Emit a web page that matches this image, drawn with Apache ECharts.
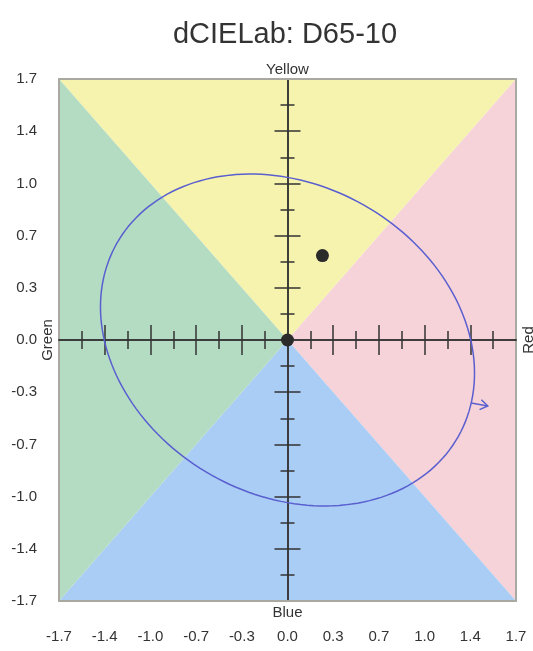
<!DOCTYPE html>
<html>
<head>
<meta charset="utf-8">
<script src="https://cdn.jsdelivr.net/npm/echarts@6/dist/echarts.min.js"></script>
<style>
  html, body { margin: 0; padding: 0; background: #fff; }
  #chart { width: 533px; height: 651px; }
</style>
</head>
<body>
<div id="chart"></div>
<script>
// a*/b* axis range and tick labelling
const axisMin = -1.7;
const axisMax = 1.7;
const axisStep = 0.34;
const tickLabels = ['-1.7', '-1.4', '-1.0', '-0.7', '-0.3', '0.0', '0.3', '0.7', '1.0', '1.4', '1.7'];
const crossTickValues = [-1.36, -1.02, -0.68, -0.34, 0.34, 0.68, 1.02, 1.36];

// hue sectors: triangles from the plot corners to the neutral point
const sectorYellow = [[-1.7, 1.7], [1.7, 1.7], [0, 0]];
const sectorRed = [[1.7, 1.7], [1.7, -1.7], [0, 0]];
const sectorBlue = [[1.7, -1.7], [-1.7, -1.7], [0, 0]];
const sectorGreen = [[-1.7, -1.7], [-1.7, 1.7], [0, 0]];
const sectors = [sectorYellow, sectorRed, sectorBlue, sectorGreen];

// measured points (da*, db*)
const samplePoints = [[0, 0], [0.26, 0.55]];

// tolerance ellipse: centre a*, centre b*, semi-major, semi-minor, rotation in degrees
const ellipseParams = [0, 0, 1.428, 1.032, -19];
// direction arrow leaving the ellipse
const arrowFrom = [1.367, -0.41];
const arrowTo = [1.49, -0.43];

const sectorColors = ['#f6f3ae', '#f6d3d9', '#a9cdf4', '#b4dcc3'];
const FONT = 'Liberation Sans, Arial, sans-serif';

const chart = echarts.init(document.getElementById('chart'), null, { renderer: 'canvas' });

function tickText(v) {
  const i = Math.round((v - axisMin) / axisStep);
  return tickLabels[i] !== undefined ? tickLabels[i] : '';
}

const valueBase = {
  type: 'value',
  min: axisMin,
  max: axisMax,
  interval: axisStep,
  splitLine: { show: false },
  nameMoveOverlap: false,
  z: 3
};
const frameLine = { onZero: false, lineStyle: { color: '#a9a9a2', width: 2 } };
const nameStyle = { fontSize: 15, color: '#333', fontFamily: FONT };
const crossLine = { color: '#333', width: 1.5 };

function crossAxis(inside, majorLen, minorLen, extra) {
  return Object.assign({}, valueBase, {
    axisLine: { onZero: true, onZeroAxisIndex: 0, lineStyle: crossLine },
    axisTick: { show: true, inside: inside, length: majorLen, customValues: crossTickValues, lineStyle: crossLine },
    minorTick: { show: true, splitNumber: 2, length: minorLen, lineStyle: crossLine },
    axisLabel: { show: false }
  }, extra);
}

const option = {
  animation: false,
  backgroundColor: '#fff',
  grid: { left: 59, right: 17, top: 79, bottom: 50, outerBoundsMode: 'none', containLabel: false },
  graphic: [{
    type: 'text',
    x: 285,
    y: 35,
    style: {
      text: 'dCIELab: D65-10',
      align: 'center',
      verticalAlign: 'middle',
      fontSize: 29,
      fill: '#333',
      fontFamily: FONT
    }
  }],
  xAxis: [
    Object.assign({}, valueBase, {
      position: 'bottom',
      axisLine: frameLine,
      axisTick: { show: false },
      axisLabel: { formatter: tickText, margin: 28, fontSize: 15, color: '#333', fontFamily: FONT },
      name: 'Blue', nameLocation: 'middle', nameGap: 4, nameTextStyle: nameStyle
    }),
    Object.assign({}, valueBase, {
      position: 'top',
      axisLine: frameLine,
      axisTick: { show: false },
      axisLabel: { show: false },
      name: 'Yellow', nameLocation: 'middle', nameGap: 2, nameTextStyle: nameStyle
    }),
    crossAxis(true, 15, 9, { position: 'bottom' }),
    crossAxis(false, 15, 9, { position: 'bottom' })
  ],
  yAxis: [
    Object.assign({}, valueBase, {
      position: 'left',
      axisLine: frameLine,
      axisTick: { show: false },
      axisLabel: { formatter: tickText, margin: 22, fontSize: 15, color: '#333', fontFamily: FONT },
      name: 'Green', nameLocation: 'middle', nameGap: 4, nameRotate: 90, nameTextStyle: nameStyle
    }),
    Object.assign({}, valueBase, {
      position: 'right',
      axisLine: frameLine,
      axisTick: { show: false },
      axisLabel: { show: false },
      name: 'Red', nameLocation: 'middle', nameGap: 5, nameRotate: 90, nameTextStyle: nameStyle
    }),
    crossAxis(true, 13, 7, { position: 'left' }),
    crossAxis(false, 13, 7, { position: 'left' })
  ],
  series: [
    {
      type: 'custom',
      name: 'sectors',
      z: 1,
      silent: true,
      data: sectors.map((s, i) => [i]),
      renderItem: function (params, api) {
        const pts = sectors[params.dataIndex].map(p => api.coord(p));
        return {
          type: 'polygon',
          shape: { points: pts },
          style: { fill: sectorColors[params.dataIndex] }
        };
      }
    },
    {
      type: 'custom',
      name: 'ellipse',
      z: 4,
      silent: true,
      data: [ellipseParams],
      renderItem: function (params, api) {
        const cx = api.value(0), cy = api.value(1);
        const ra = api.value(2), rb = api.value(3);
        const phi = api.value(4) * Math.PI / 180;
        const pts = [];
        const n = 180;
        for (let k = 0; k <= n; k++) {
          const t = 2 * Math.PI * k / n;
          const x = cx + ra * Math.cos(t) * Math.cos(phi) - rb * Math.sin(t) * Math.sin(phi);
          const y = cy + ra * Math.cos(t) * Math.sin(phi) + rb * Math.sin(t) * Math.cos(phi);
          pts.push(api.coord([x, y]));
        }
        const p0 = api.coord(arrowFrom);
        const p1 = api.coord(arrowTo);
        const ang = Math.atan2(p1[1] - p0[1], p1[0] - p0[0]);
        const arm = 9, spread = 0.6;
        const headA = [p1[0] - arm * Math.cos(ang - spread), p1[1] - arm * Math.sin(ang - spread)];
        const headB = [p1[0] - arm * Math.cos(ang + spread), p1[1] - arm * Math.sin(ang + spread)];
        const stroke = { stroke: '#5a5fd0', lineWidth: 1.5, fill: null };
        return {
          type: 'group',
          children: [
            { type: 'polyline', shape: { points: pts }, style: stroke },
            { type: 'polyline', shape: { points: [p0, p1] }, style: stroke },
            { type: 'polyline', shape: { points: [headA, p1, headB] }, style: stroke }
          ]
        };
      }
    },
    {
      type: 'scatter',
      name: 'samples',
      z: 5,
      symbol: 'circle',
      symbolSize: 13,
      itemStyle: { color: '#2b2b2b', opacity: 1 },
      data: samplePoints
    }
  ]
};

chart.setOption(option);
</script>
</body>
</html>
